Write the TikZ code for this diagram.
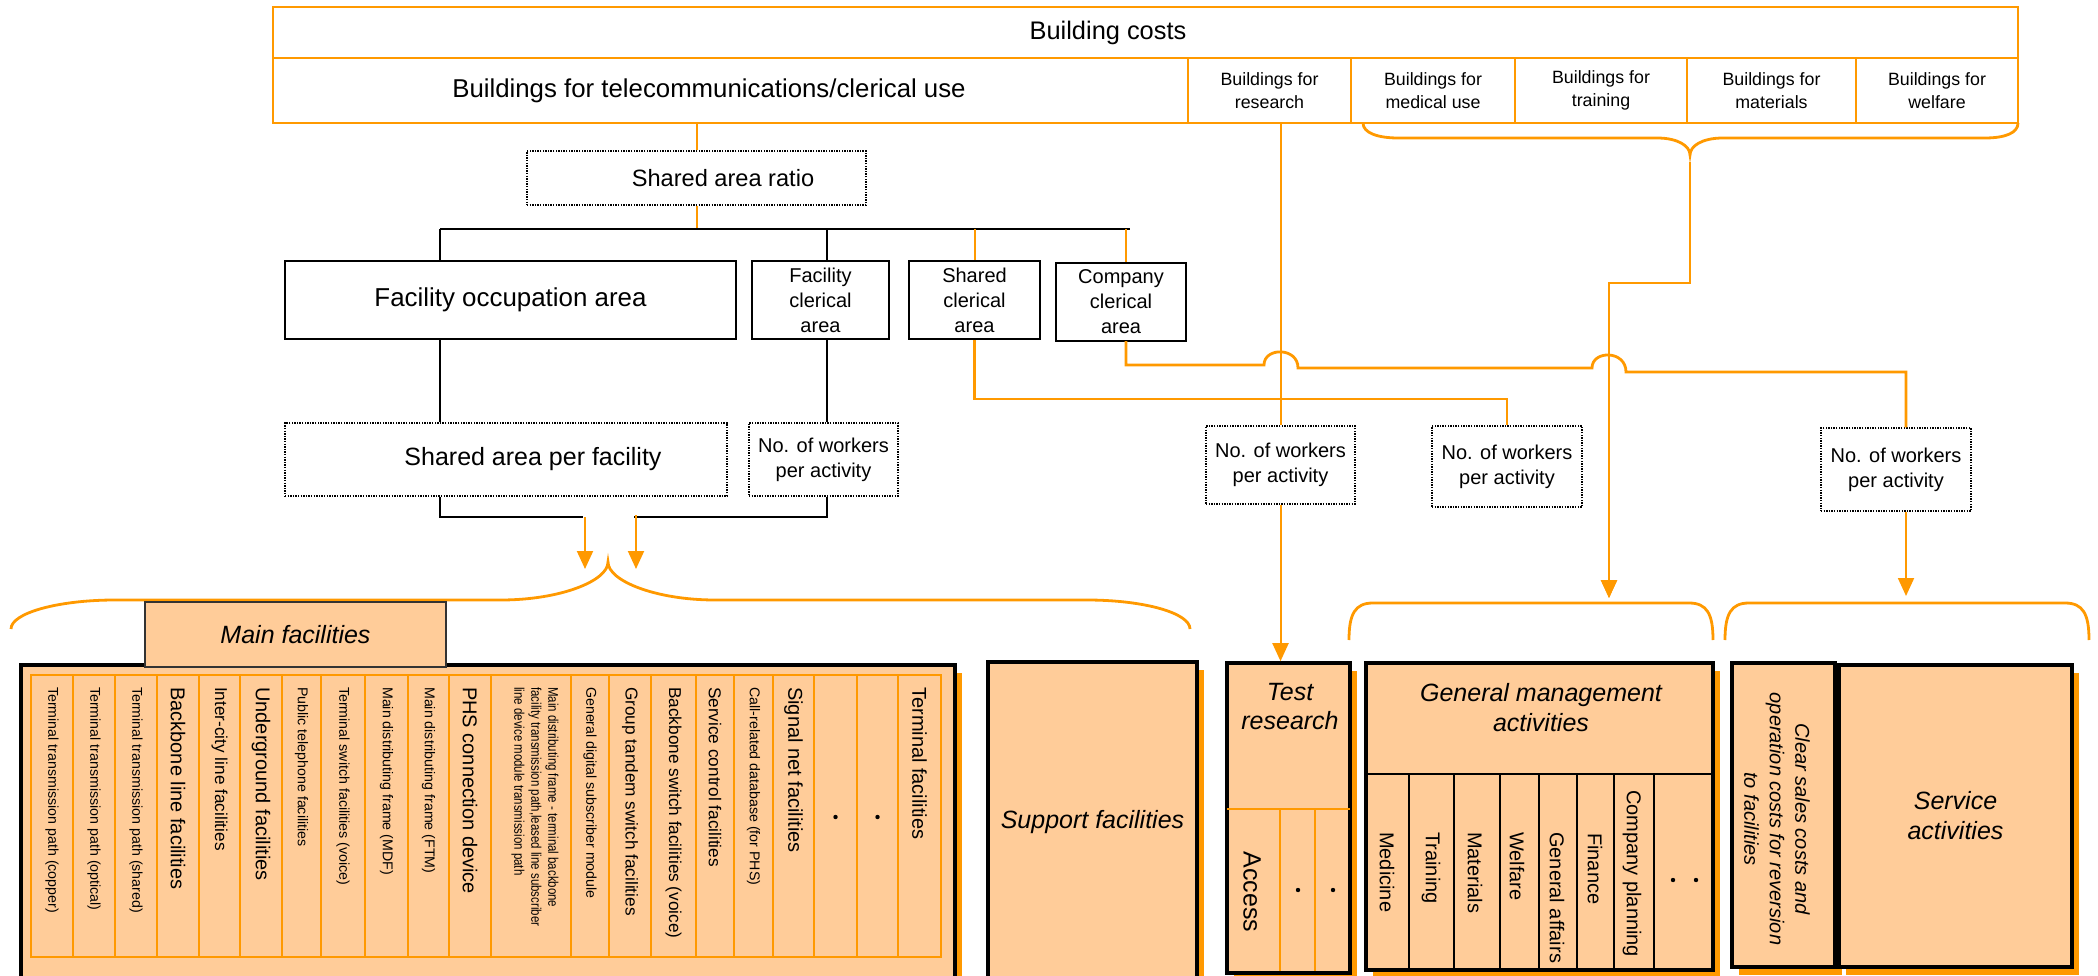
\documentclass[tikz,border=0pt]{standalone}
\usepackage{fontspec}
\setmainfont{Liberation Sans}
\newfontfamily\narrowfont[FakeStretch=0.82]{Liberation Sans}
\usetikzlibrary{arrows.meta,shadows}
\definecolor{peach}{RGB}{255,204,153}
\definecolor{orL}{RGB}{255,153,0}
\newcommand{\myfs}[2]{\fontsize{#1}{#2}\selectfont}
\tikzset{
  oline/.style={draw=orL, line width=2pt},
  othick/.style={draw=orL, line width=2.8pt},
  bline/.style={draw=black, line width=2.6pt},
  arr/.style={-{Triangle[width=16pt,length=18pt]}},
  cell/.style={draw=orL, line width=2pt, fill=white, inner sep=0pt, align=center},
  pbox/.style={draw=black, line width=2.2pt, fill=white, inner sep=0pt, align=center},
  dbox/.style={draw=black, line width=1.4pt, dash pattern=on 1.4pt off 1.2pt, fill=white, inner sep=0pt, align=center},
  bigbox/.style={draw=black, line width=3.6pt, fill=peach, inner sep=0pt, align=center,
     drop shadow={shadow xshift=7pt, shadow yshift=-8pt, fill=orL, opacity=1}},
  col/.style={rotate=-90, anchor=west, inner sep=0pt},
  fA/.style={font=\myfs{14.2}{17}},
  fB/.style={font=\myfs{17.2}{20}},
  fC/.style={font=\myfs{20}{24}},
  fbld/.style={font=\myfs{17.8}{23}},
  fbox/.style={font=\myfs{20}{25}},
  fital/.style={font=\myfs{25}{30}\itshape},
}
\begin{document}
\begin{tikzpicture}[x=1pt,y=-1pt]
\useasboundingbox (0,0) rectangle (2098,976);
\clip (0,0) rectangle (2098,976);

% ---------- top building table ----------
\node[cell, minimum width=1745pt, minimum height=51pt, font=\myfs{25.4}{30}] (bcost) at (1145.5,32.5) {Building costs\hspace*{75pt}};
\node[cell, minimum width=915pt, minimum height=65pt, font=\myfs{25.8}{30}] (tele) at (730.5,90.5) {Buildings for telecommunications/clerical use\hspace*{43pt}};
\node[cell, fbld, minimum width=163pt, minimum height=65pt] (bres) at (1269.5,90.5) {Buildings for\\research};
\node[cell, fbld, minimum width=164pt, minimum height=65pt] (bmed) at (1433,90.5) {Buildings for\\medical use};
\node[cell, fbld, minimum width=172pt, minimum height=65pt] (btra) at (1601,90.5) {Buildings for\\training};
\node[cell, fbld, minimum width=169pt, minimum height=65pt] (bmat) at (1771.5,90.5) {Buildings for\\materials};
\node[cell, fbld, minimum width=162pt, minimum height=65pt] (bwel) at (1937,90.5) {Buildings for\\welfare};

% ---------- left tree ----------
\node[dbox, minimum width=339pt, minimum height=54pt, font=\myfs{23.6}{28}] (sar) at (696.5,178) {\hspace*{53pt}Shared area ratio};
\node[pbox, minimum width=451pt, minimum height=78pt, font=\myfs{25.9}{30}] (foa) at (510.5,300) {Facility occupation area};
\node[pbox, fbox, minimum width=137pt, minimum height=78pt] (fca) at (820.5,300) {Facility\\clerical\\area};
\node[pbox, fbox, minimum width=131pt, minimum height=78pt] (sca) at (974.5,300) {Shared\\clerical\\area};
\node[pbox, fbox, minimum width=130pt, minimum height=78pt] (cca) at (1121,302) {Company\\clerical\\area};
\node[dbox, minimum width=442pt, minimum height=73pt, font=\myfs{25}{30}] (saf) at (506,459.5) {\hspace*{54pt}Shared area per facility};
\node[dbox, fbox, minimum width=149pt, minimum height=73pt] (nw1) at (823.5,459.5) {No. of workers\\per activity};

\node[dbox, fbox, minimum width=149pt, minimum height=78pt] (nwr) at (1280.5,465) {No. of workers\\per activity};
\node[dbox, fbox, minimum width=150pt, minimum height=81pt] (nwm) at (1507,466.5) {No. of workers\\per activity};
\node[dbox, fbox, minimum width=150pt, minimum height=83pt] (nws) at (1896,469.5) {No. of workers\\per activity};

\coordinate (busL) at (440,229);
\coordinate (busR) at (1130,229);
\coordinate (bus2) at (827,229);
\coordinate (ccx) at (1126,229);
\draw[oline] (sar.north |- tele.south) -- (sar.north);
\draw[oline] (sar.south) -- (sar.south |- busL);
\draw[bline] (busL) -- (busR);
\draw[bline] (busL) -- (busL |- foa.north);
\draw[bline] (bus2) -- (bus2 |- fca.north);
\draw[oline] (sca.north |- busL) -- (sca.north);
\draw[oline] (ccx) -- (ccx |- cca.north);
\draw[bline] (busL |- foa.south) -- (busL |- saf.north);
\draw[bline] (bus2 |- fca.south) -- (bus2 |- nw1.north);

\coordinate (bbL) at (440,517);
\coordinate (bbR) at (827,517);
\coordinate (bgl) at (583,517);
\coordinate (bgr) at (634,517);
\draw[bline] (bbL |- saf.south) -- (bbL) -- (bgl);
\draw[bline] (bgr) -- (bbR) -- (bbR |- nw1.south);
\coordinate (a1s) at (585,517);
\coordinate (a1e) at (585,569);
\coordinate (a2s) at (636,515);
\coordinate (a2e) at (636,569);
\draw[oline,arr] (a1s) -- (a1e);
\draw[oline,arr] (a2s) -- (a2e);

% ---------- braces ----------
\draw[othick] (11,629) .. controls (11,613) and (58,600) .. (115,600) -- (501,600)
  .. controls (560,600) and (608,581) .. (608,562)
  .. controls (608,581) and (656,600) .. (715,600) -- (1087,600)
  .. controls (1144,600) and (1190,613) .. (1190,629);
\coordinate (tbcusp) at (1690,155);
\draw[othick] (1363,123) .. controls (1363,133) and (1378,138) .. (1398,138) -- (1657,138)
  .. controls (1678,138) and (1690,146) .. (tbcusp)
  .. controls (1690,146) and (1702,138) .. (1723,138) -- (1985,138)
  .. controls (2005,138) and (2018,133) .. (2018,123);
\draw[othick] (1349,640) .. controls (1349,614) and (1355,603) .. (1373,603) -- (1689,603)
  .. controls (1707,603) and (1713,614) .. (1713,640);
\draw[othick] (1725,640) .. controls (1725,614) and (1731,603) .. (1749,603) -- (2065,603)
  .. controls (2083,603) and (2089,614) .. (2089,640);

% ---------- right connectors ----------
\coordinate (gmtip) at (1609,598);
\draw[oline,arr] ([yshift=-7pt]tbcusp) -- (1690,283) -- (1609,283) -- (gmtip);
\draw[oline] (nwr.north |- tele.south) -- (nwr.north);
\coordinate (scTurn) at (974.5,399);
\draw[othick] (sca.south) -- (scTurn) -- (scTurn -| nwm.north) -- (nwm.north);
\coordinate (ccb) at (1126,341);
\coordinate (svx) at (1906,372);
\draw[othick] (ccb) -- (1126,365) -- (1264,365) .. controls (1264,347) and (1298,347) .. (1298,368)
  -- (1592,368) .. controls (1592,350) and (1626,350) .. (1626,372) -- (svx) -- (svx |- nws.north);
\coordinate (svtip) at (1906,596);
\draw[oline,arr] (svtip |- nws.south) -- (svtip);

% ---------- Main facilities ----------
\node[bigbox, minimum width=934pt, minimum height=340pt, anchor=north west] (mf) at (19,663) {};
\draw[orL, line width=2.7pt] (31,675) rectangle (941,957);
\foreach \x in {73,115,157,199,240,282,321,365,408,449,491,571,609,651,696,734,773,814,857,898}
  \draw[orL, line width=2.2pt] (\x,675) -- (\x,957);
\node[draw=black!80, line width=1.5pt, fill=peach, inner sep=0pt, minimum width=301pt, minimum height=65pt, fital] (mftab) at (295.5,634.5) {Main facilities};

\node[col,fA] (c1) at (52,687) {Terminal transmission path (copper)};
\node[col,fA] (c2) at (94,687) {Terminal transmission path (optical)};
\node[col,fA] (c3) at (136,687) {Terminal transmission path (shared)};
\node[col,fC] (c4) at (178,687) {Backbone line facilities};
\node[col,fB] (c5) at (219.5,687) {Inter-city line facilities};
\node[col,fC] (c6) at (261,687) {Underground facilities};
\node[col,fA] (c7) at (301.5,687) {Public telephone facilities};
\node[col,fA] (c8) at (343,687) {Terminal switch facilities (voice)};
\node[col,fA] (c9) at (386.5,687) {Main distributing frame (MDF)};
\node[col,fA] (c10) at (428.5,687) {Main distributing frame (FTM)};
\node[col,fC] (c11) at (470,687) {PHS connection device};
\node[col,align=left,font=\narrowfont\myfs{14}{17}] (c12) at (535,687) {Main distributing frame - terminal backbone\\facility transmission path,leased line subscriber\\line device module transmission path};
\node[col,fA] (c13) at (590,687) {General digital subscriber module};
\node[col,fB] (c14) at (630,687) {Group tandem switch facilities};
\node[col,fB] (c15) at (673.5,687) {Backbone switch facilities (voice)};
\node[col,fB] (c16) at (715,687) {Service control facilities};
\node[col,fA] (c17) at (753.5,687) {Call-related database (for PHS)};
\node[col,fC] (c18) at (793.5,687) {Signal net facilities};
\node[col,fC] (c21) at (919.5,687) {Terminal facilities};
\fill (835.5,817) circle (2.2pt);
\fill (877.5,817) circle (2.2pt);

% ---------- Support facilities ----------
\node[bigbox, fital, minimum width=209pt, minimum height=320pt] (sup) at (1092.5,822) {Support facilities};

% ---------- Test research ----------
\node[bigbox, minimum width=123pt, minimum height=310pt] (tr) at (1288.5,818) {};
\node[align=center, font=\myfs{25}{29}\itshape] (trt) at (1290,707) {Test\\research};
\draw[orL, line width=2pt] (1227,809) -- (1350,809);
\draw[orL, line width=2pt] (1280,809) -- (1280,971);
\draw[orL, line width=2pt] (1315,809) -- (1315,971);
\node[rotate=-90, font=\myfs{25}{30}, inner sep=0pt] (acc) at (1252,892) {Access};
\fill (1298,890) circle (2.2pt);
\fill (1333,890) circle (2.2pt);
\draw[oline,arr] (nwr.south) -- (nwr.south |- tr.north);

% ---------- General management ----------
\node[bigbox, minimum width=347pt, minimum height=307pt] (gm) at (1539.5,816.5) {};
\node[align=center, font=\myfs{25}{30}\itshape] (gmt) at (1541,708) {General management\\activities};
\draw[black, line width=2pt] (1368,774) -- (1712,774);
\foreach \x in {1409,1454,1500,1539,1577,1614,1654}
  \draw[black, line width=1.6pt] (\x,774) -- (\x,968);
\node[col,fC] (g1) at (1387,832) {Medicine};
\node[col,fC] (g2) at (1431,832) {Training};
\node[col,fC] (g3) at (1475,832) {Materials};
\node[col,fC] (g4) at (1517,832) {Welfare};
\node[col,fC] (g5) at (1557,832) {General affairs};
\node[col,fC] (g6) at (1595,833) {Finance};
\node[col,fC] (g7) at (1632,790) {Company planning};
\fill (1673,880) circle (2.2pt);
\fill (1696,880) circle (2.2pt);
\draw[oline,arr] (1609,283) -- (gmtip);

% ---------- Clear sales / Service ----------
\node[bigbox, minimum width=103pt, minimum height=304pt] (cs) at (1783.5,815) {};
\node[rotate=-90, align=center, inner sep=0pt, font=\myfs{20}{25.5}\itshape] (cst) at (1777,819) {Clear sales costs and\\operation costs for reversion\\to facilities};
\node[bigbox, minimum width=233pt, minimum height=302pt, font=\myfs{25}{30}\itshape] (sv) at (1955.5,816) {Service\\activities};

\end{tikzpicture}
\end{document}
